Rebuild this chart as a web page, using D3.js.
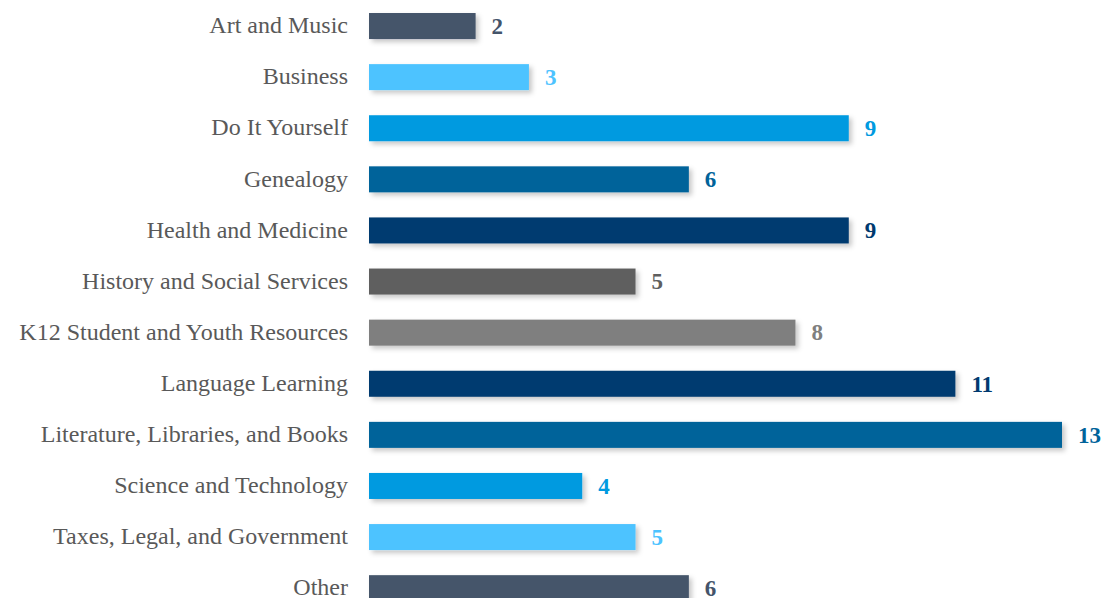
<!DOCTYPE html>
<html>
<head>
<meta charset="utf-8">
<script src="https://cdn.jsdelivr.net/npm/d3@7"></script>
<style>
  html, body { margin: 0; padding: 0; background: #fff; }
  svg { display: block; }
</style>
</head>
<body>
<div id="chart"></div>
<script>
// Resource counts by subject area
const categories = [
  "Art and Music",
  "Business",
  "Do It Yourself",
  "Genealogy",
  "Health and Medicine",
  "History and Social Services",
  "K12 Student and Youth Resources",
  "Language Learning",
  "Literature, Libraries, and Books",
  "Science and Technology",
  "Taxes, Legal, and Government",
  "Other"
];
const counts = [2, 3, 9, 6, 9, 5, 8, 11, 13, 4, 5, 6];
const barColors = [
  "#44546a", "#4dc3ff", "#009ae0", "#00639a", "#003a6f", "#5f5f5f",
  "#7f7f7f", "#003a6f", "#00639a", "#009ae0", "#4dc3ff", "#44546a"
];

const width = 1106, height = 598;
const svg = d3.select("#chart").append("svg")
  .attr("width", width).attr("height", height);

const defs = svg.append("defs");
const shadow = defs.append("filter").attr("id", "barShadow")
  .attr("x", "-5%").attr("y", "-40%").attr("width", "115%").attr("height", "190%");
shadow.append("feDropShadow")
  .attr("dx", 3).attr("dy", 3).attr("stdDeviation", 2.5)
  .attr("flood-color", "#000").attr("flood-opacity", 0.22);

const x = d3.scaleLinear().domain([0, 13]).range([369, 1062]);
const y = d3.scaleBand().domain(categories)
  .range([0.5, 613.7]).paddingInner(0.491).paddingOuter(0.245);

const rows = categories.map((c, i) => ({ cat: c, value: counts[i], color: barColors[i] }));

// Bars
svg.append("g").selectAll("rect").data(rows).join("rect")
  .attr("x", x(0))
  .attr("y", d => y(d.cat))
  .attr("width", d => x(d.value) - x(0))
  .attr("height", y.bandwidth())
  .attr("fill", d => d.color)
  .attr("filter", "url(#barShadow)");

// Category labels
const axis = d3.axisLeft(y).tickSize(0).tickPadding(0);
const axisG = svg.append("g").attr("transform", "translate(348,0)").call(axis);
axisG.select(".domain").remove();
axisG.selectAll("text")
  .attr("fill", "#595959")
  .attr("font-family", "'Liberation Serif', 'DejaVu Serif', serif")
  .attr("font-size", 24)
  .attr("dy", "0.3em");

// Value labels
svg.append("g").selectAll("text").data(rows).join("text")
  .attr("x", d => x(d.value) + 16)
  .attr("y", d => y(d.cat) + y.bandwidth() / 2)
  .attr("dy", "0.34em")
  .attr("fill", d => d.color)
  .attr("font-family", "'Liberation Serif', serif")
  .attr("font-weight", "bold")
  .attr("font-size", 23)
  .text(d => d.value);
</script>
</body>
</html>
